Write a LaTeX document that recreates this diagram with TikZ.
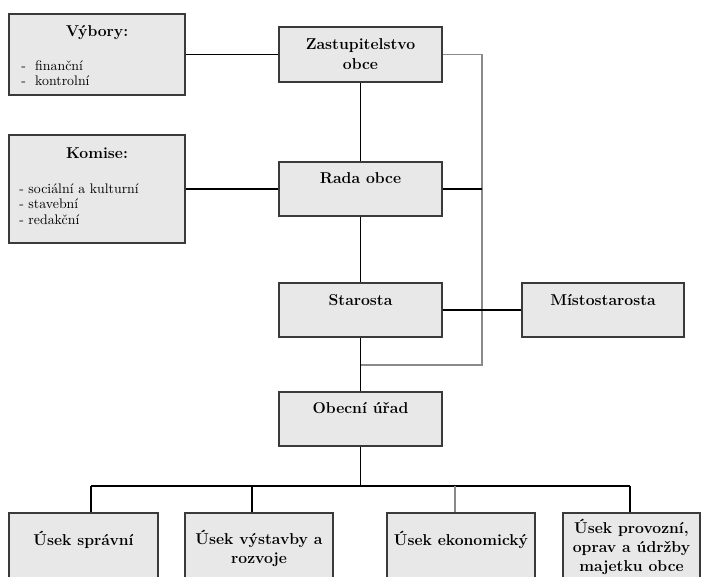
\documentclass[tikz,border=0pt]{standalone}
\usetikzlibrary{calc}
\definecolor{boxfill}{HTML}{E8E8E8}
\definecolor{boxline}{HTML}{3A3A3A}
\definecolor{lgray}{HTML}{8A8A8A}
\begin{document}
\begin{tikzpicture}[x=0.75pt,y=-0.75pt,
  box/.style={draw=boxline, fill=boxfill, line width=0.8pt, inner sep=0pt,
    minimum width=163*0.75pt, minimum height=54*0.75pt},
  ttl/.style={font=\fontsize{11.8}{14.5}\selectfont\bfseries, align=center, inner sep=0pt},
  itm/.style={font=\fontsize{10.4}{11.5}\selectfont, align=left, inner sep=0pt, anchor=west},
  conn/.style={draw=black, line width=0.9pt},
  gconn/.style={draw=lgray, line width=0.9pt}]
\useasboundingbox (0,0) rectangle (702,577);
\clip (0,0) rectangle (702,577);

% boxes
\node[box, minimum width=176*0.75pt, minimum height=81*0.75pt] (vyb) at (97,54.5) {};
\node[box, minimum width=176*0.75pt, minimum height=108*0.75pt] (kom) at (97,189) {};
\node[box, minimum height=55*0.75pt] (zast) at (360.5,54.5) {};
\node[box] (rada) at (360.5,189) {};
\node[box] (star) at (360.5,310) {};
\node[box, minimum width=162*0.75pt] (mist) at (603,310) {};
\node[box] (ured) at (360.5,419) {};
\node[box, minimum width=149*0.75pt, minimum height=90*0.75pt] (u1) at (83.5,558) {};
\node[box, minimum width=148*0.75pt, minimum height=90*0.75pt] (u2) at (259,558) {};
\node[box, minimum width=148*0.75pt, minimum height=90*0.75pt] (u3) at (461,558) {};
\node[box, minimum width=137*0.75pt, minimum height=90*0.75pt] (u4) at (631.5,558) {};

% texts
\node[ttl] (vybT) at (97,33) {Výbory:};
\node[itm] (vybI) at (21,73.5) {-\hspace{7pt}finanční\\-\hspace{7pt}kontrolní};
\node[ttl] (komT) at (97,153) {Komise:};
\node[itm] (komI) at (19,204) {- sociální a kulturní\\- stavební\\- redakční};
\node[ttl] (zastT) at (360.5,54) {Zastupitelstvo\\obce};
\node[ttl] (radaT) at (360.5,178) {Rada obce};
\node[ttl] (starT) at (360.5,300) {Starosta};
\node[ttl] (mistT) at (603,300) {Místostarosta};
\node[ttl] (uredT) at (360.5,408) {Obecní úřad};
\node[ttl] (u1T) at (83.5,540) {Úsek správní};
\node[ttl] (u2T) at (259,548.5) {Úsek výstavby a\\rozvoje};
\node[ttl] (u3T) at (461,540) {Úsek ekonomický};
\node[ttl] (u4T) at (631.5,547) {Úsek provozní,\\oprav a údržby\\majetku obce};

% connectors
\coordinate (rt) at (482,54.5);
\coordinate (rb) at (482,365);
\draw[gconn] (zast.east) -- (rt) -- (rb) -- (rb -| star.south);
\draw[conn] (vyb.east) -- (zast.west);
\draw[conn] (kom.east) -- (rada.west);
\draw[conn] (zast.south) -- (rada.north);
\draw[conn] (rada.south) -- (star.north);
\draw[conn] (star.south) -- (ured.north);
\draw[conn] (star.east) -- (mist.west);
\draw[conn] (rada.east) -- (rada.east -| rt);
\coordinate (bus) at (360.5,486);
\coordinate (d1) at (91,486);
\coordinate (d2) at (252,486);
\coordinate (d3) at (455,486);
\coordinate (d4) at (630,486);
\draw[conn] (ured.south) -- (bus);
\draw[conn] (d1) -- (d4);
\draw[conn] (d1) -- (d1 |- u1.north);
\draw[conn] (d2) -- (d2 |- u2.north);
\draw[gconn] (d3) -- (d3 |- u3.north);
\draw[conn] (d4) -- (d4 |- u4.north);
\end{tikzpicture}
\end{document}
